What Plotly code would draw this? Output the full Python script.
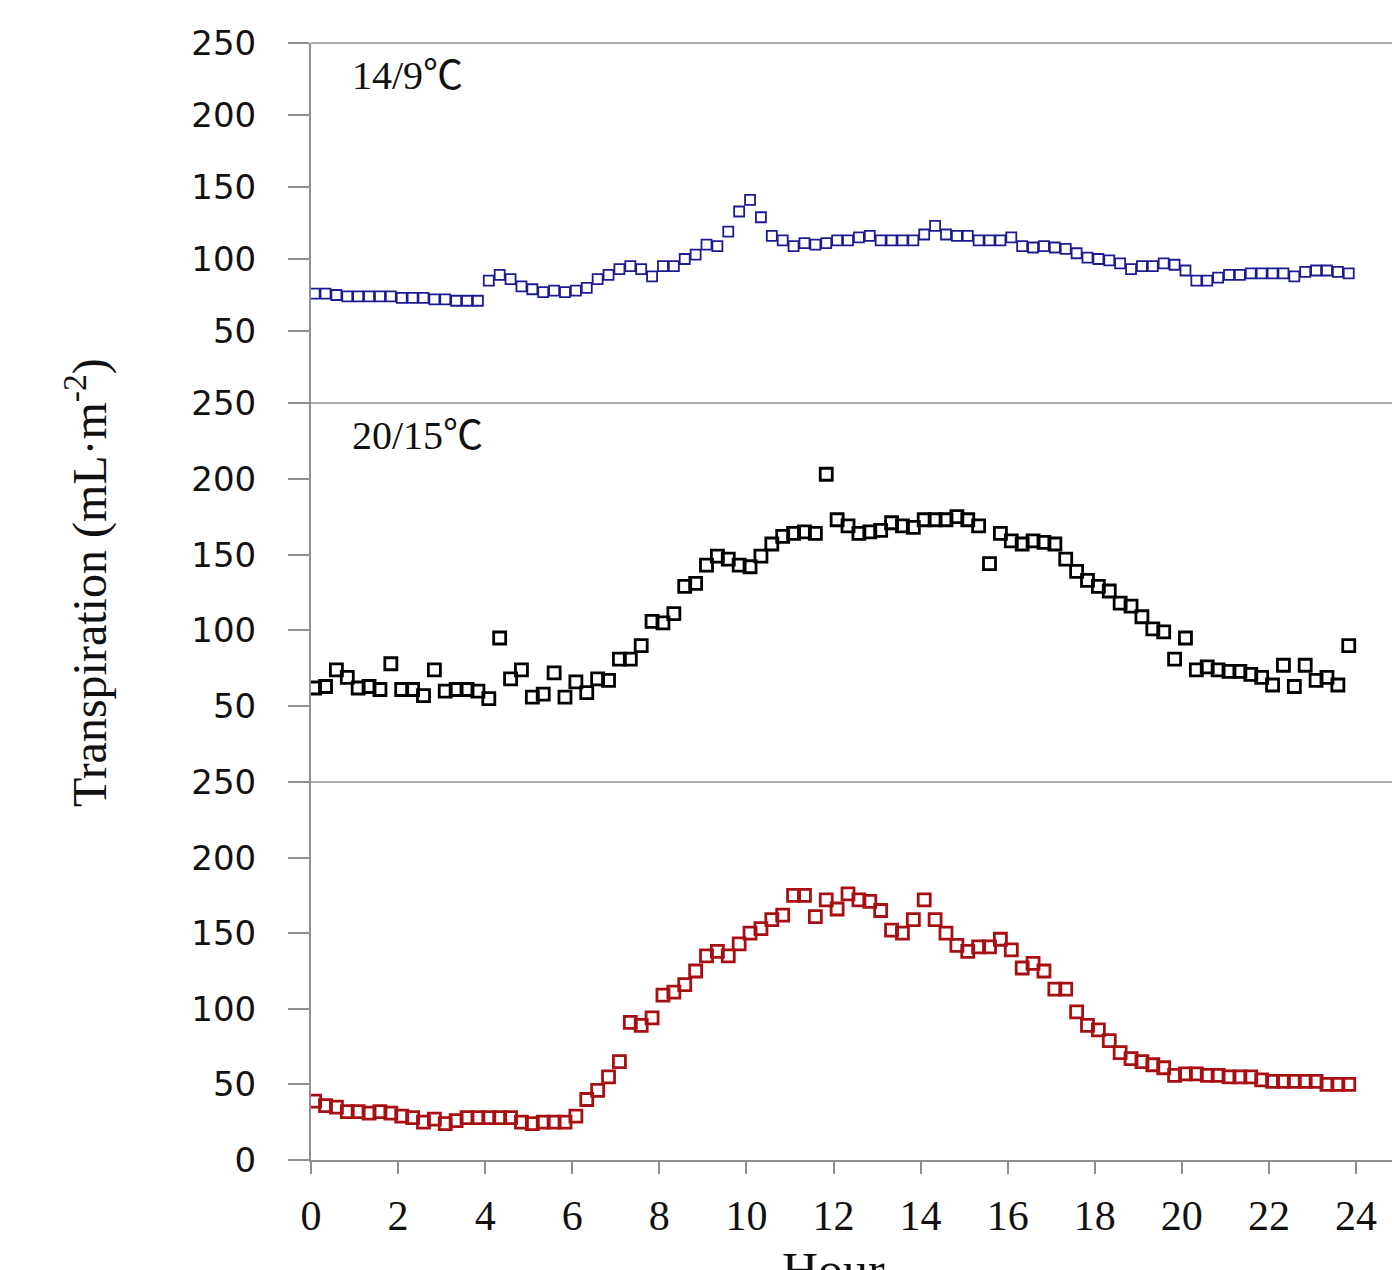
import plotly.graph_objects as go

# time of day (hours), 15-min sampling starting at 00:05
hours = [(5 + 15 * i) / 60 for i in range(96)]

# 14/9 °C (blue, top panel)
t_14_9 = [76, 76, 75, 74, 74, 74, 74, 74, 73, 73, 73, 72, 72, 71, 71, 71,
          85, 89, 86, 81, 79, 77, 78, 77, 78, 80, 86, 89, 93, 95, 93, 88,
          95, 95, 100, 103, 110, 109, 119, 133, 141, 129, 116, 113, 109, 111, 110, 111,
          113, 113, 115, 116, 113, 113, 113, 113, 117, 123, 117, 116, 116, 113, 113, 113,
          115, 109, 108, 109, 108, 107, 104, 101, 100, 99, 97, 93, 95, 95, 97, 96,
          92, 85, 85, 87, 89, 89, 90, 90, 90, 90, 88, 91, 92, 92, 91, 90]

# 20/15 °C (black, middle panel)
t_20_15 = [62, 63, 74, 69, 62, 63, 61, 78, 61, 61, 57, 74, 60, 61, 61, 60,
           55, 95, 68, 74, 56, 58, 72, 56, 66, 59, 68, 67, 81, 81, 90, 106,
           105, 111, 129, 131, 143, 149, 147, 143, 142, 149, 157, 162, 164, 165, 164, 203,
           173, 169, 164, 165, 166, 171, 169, 168, 173, 173, 173, 175, 173, 169, 144, 164,
           159, 157, 159, 158, 157, 147, 139, 133, 129, 126, 118, 116, 109, 101, 99, 81,
           95, 74, 76, 74, 73, 73, 71, 69, 64, 77, 63, 77, 67, 69, 64, 90]

# third treatment (red, bottom panel)
t_panel3 = [39, 36, 35, 32, 32, 31, 32, 31, 29, 28, 25, 27, 24, 26, 28, 28,
            28, 28, 28, 25, 24, 25, 25, 25, 29, 40, 46, 55, 65, 91, 89, 94,
            109, 111, 116, 125, 135, 138, 135, 143, 150, 153, 159, 162, 175, 175, 161, 172,
            166, 176, 172, 171, 165, 152, 150, 159, 172, 159, 150, 142, 138, 141, 141, 146,
            139, 127, 130, 125, 113, 113, 98, 89, 86, 79, 71, 67, 65, 63, 61, 56,
            57, 57, 56, 56, 55, 55, 55, 53, 52, 52, 52, 52, 52, 50, 50, 50]

panel_labels = ["14/9\u2103", "20/15\u2103"]
x_ticks = list(range(0, 25, 2))
y_ticks_top = [50, 100, 150, 200, 250]
y_ticks_bottom = [0, 50, 100, 150, 200, 250]

W, H = 1392, 1270
ML, MR, MT, MB = 311, 0, 43, 110
PW = W - ML - MR
PH = H - MT - MB

def py(pix):  # pixel row -> paper y
    return (H - MB - pix) / PH

def px(pix):  # pixel column -> paper x
    return (pix - ML) / PW

d3 = [0, py(782)]
d2 = [py(782), py(403)]
d1 = [py(403), 1]

AX_GRAY = "#8f8f8f"

fig = go.Figure()
fig.add_trace(go.Scatter(x=hours, y=t_14_9, mode="markers", xaxis="x3", yaxis="y3",
                         marker=dict(symbol="square-open", size=10, color="#1c1c92",
                                     line=dict(width=1.8, color="#1c1c92")),
                         showlegend=False))
fig.add_trace(go.Scatter(x=hours, y=t_20_15, mode="markers", xaxis="x2", yaxis="y2",
                         marker=dict(symbol="square-open", size=12, color="#000000",
                                     line=dict(width=2.8, color="#000000")),
                         showlegend=False))
fig.add_trace(go.Scatter(x=hours, y=t_panel3, mode="markers", xaxis="x", yaxis="y",
                         marker=dict(symbol="square-open", size=12, color="#a80f12",
                                     line=dict(width=2.8, color="#a80f12")),
                         showlegend=False))

xr = [0, 24 * PW / (1356 - ML)]
ytick_font = dict(family="DejaVu Sans", size=34, color="#111111")

def yax(domain, tickvals, anchor):
    return dict(domain=domain, range=[0, 250], tickvals=tickvals,
                ticktext=[str(v) for v in tickvals], anchor=anchor,
                showgrid=False, zeroline=False, showline=True, linecolor=AX_GRAY,
                linewidth=2, ticks="outside", ticklen=21, tickcolor=AX_GRAY,
                tickwidth=1.5, tickfont=ytick_font, ticklabelstandoff=25)

fig.update_layout(
    width=W, height=H,
    margin=dict(l=ML, r=MR, t=MT, b=MB),
    paper_bgcolor="white", plot_bgcolor="white",
    xaxis=dict(domain=[0, 1], range=xr, anchor="y", tickvals=x_ticks,
               ticktext=[str(v) for v in x_ticks], showgrid=False, zeroline=False,
               showline=True, linecolor=AX_GRAY, linewidth=2, ticks="outside",
               ticklen=12, tickcolor=AX_GRAY, tickwidth=1.5,
               tickfont=dict(family="Liberation Serif", size=42, color="#111111"),
               ticklabelstandoff=6),
    xaxis2=dict(domain=[0, 1], range=xr, anchor="y2", matches="x", showgrid=False,
                zeroline=False, showline=False, showticklabels=False, ticks=""),
    xaxis3=dict(domain=[0, 1], range=xr, anchor="y3", matches="x", showgrid=False,
                zeroline=False, showline=False, showticklabels=False, ticks=""),
    yaxis=yax(d3, y_ticks_bottom, "x"),
    yaxis2=yax(d2, y_ticks_top, "x2"),
    yaxis3=yax(d1, y_ticks_top, "x3"),
)

# top border line of each panel
for yref in ["y domain", "y2 domain", "y3 domain"]:
    fig.add_shape(type="line", xref="paper", yref=yref, x0=0, x1=1, y0=1, y1=1,
                  line=dict(color=AX_GRAY, width=1.5), layer="below")

label_font = dict(family="Liberation Serif, Noto Sans CJK SC", size=40, color="#111111")
fig.add_annotation(text=panel_labels[0], xref="paper", yref="paper", x=px(350), y=py(75),
                   xanchor="left", yanchor="middle", showarrow=False, font=label_font)
fig.add_annotation(text=panel_labels[1], xref="paper", yref="paper", x=px(350), y=py(435),
                   xanchor="left", yanchor="middle", showarrow=False, font=label_font)

fig.add_annotation(text="Transpiration (mL\u00b7m<sup>-2</sup>)", xref="paper", yref="paper",
                   x=px(86), y=py(583), textangle=-90, xanchor="center", yanchor="middle",
                   showarrow=False,
                   font=dict(family="Liberation Serif", size=48, color="#111111"))
fig.add_annotation(text="Hour", xref="paper", yref="paper", x=px(833), y=py(1240),
                   xanchor="center", yanchor="top", showarrow=False,
                   font=dict(family="Liberation Serif", size=50, color="#111111"))

fig.write_html("out.html")
